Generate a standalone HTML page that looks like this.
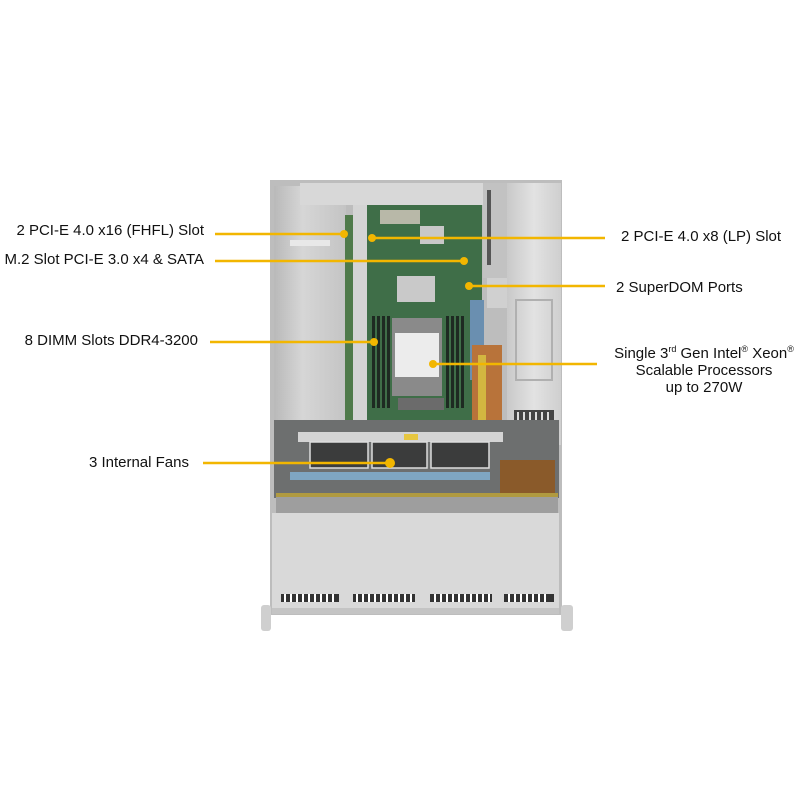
<!DOCTYPE html>
<html><head><style>
html,body{margin:0;padding:0;background:#fff;}
body{width:800px;height:800px;position:relative;overflow:hidden;font-family:"Liberation Sans",Arial,sans-serif;}
.t{position:absolute;font-size:15px;color:#111;white-space:nowrap;line-height:16px;}
</style></head><body>
<svg width="800" height="800" style="position:absolute;left:0;top:0">
<defs>
<linearGradient id="psu" x1="0" x2="1"><stop offset="0" stop-color="#c9c9c9"/><stop offset="0.5" stop-color="#e2e2e2"/><stop offset="1" stop-color="#cfcfcf"/></linearGradient>
<linearGradient id="bay" x1="0" x2="1"><stop offset="0" stop-color="#b9b9b9"/><stop offset="0.4" stop-color="#d6d6d6"/><stop offset="1" stop-color="#c4c4c4"/></linearGradient>
</defs>
<rect x="270" y="180" width="292" height="435" fill="#bdbdbd"/>
<rect x="274" y="186" width="72" height="245" fill="url(#bay)"/>
<rect x="290" y="240" width="40" height="6" fill="#e8e8e8"/>
<rect x="345" y="215" width="8" height="210" fill="#4f7a4a"/>
<rect x="353" y="200" width="14" height="230" fill="#d4d4d4"/>
<rect x="300" y="183" width="185" height="22" fill="#d8d8d8"/>
<rect x="367" y="205" width="115" height="215" fill="#3f6e48"/>
<rect x="380" y="210" width="40" height="14" fill="#b8b8a8"/>
<rect x="420" y="226" width="24" height="18" fill="#c8c8c8"/>
<rect x="397" y="276" width="38" height="26" fill="#c9c9c9"/>
<g fill="#1e2a22">
<rect x="372" y="316" width="3" height="92"/><rect x="377" y="316" width="3" height="92"/><rect x="382" y="316" width="3" height="92"/><rect x="387" y="316" width="3" height="92"/>
<rect x="446" y="316" width="3" height="92"/><rect x="451" y="316" width="3" height="92"/><rect x="456" y="316" width="3" height="92"/><rect x="461" y="316" width="3" height="92"/>
</g>
<rect x="392" y="318" width="50" height="78" fill="#8a8a8a"/>
<rect x="395" y="333" width="44" height="44" fill="#ececec"/>
<rect x="398" y="398" width="46" height="12" fill="#6b6b6b"/>
<rect x="470" y="300" width="14" height="80" fill="#6a8fb0"/>
<rect x="472" y="345" width="30" height="80" fill="#b8733a"/>
<rect x="478" y="355" width="8" height="65" fill="#d3b640"/>
<rect x="483" y="183" width="24" height="95" fill="#c2c2c2"/>
<rect x="487" y="190" width="4" height="75" fill="#555"/>
<rect x="487" y="278" width="22" height="30" fill="#d0d0d0"/>
<rect x="507" y="183" width="54" height="262" fill="url(#psu)"/>
<rect x="516" y="300" width="36" height="80" fill="none" stroke="#b0b0b0" stroke-width="2"/>
<rect x="514" y="410" width="40" height="26" fill="#444"/>
<g stroke="#ddd" stroke-width="2"><line x1="518" y1="412" x2="518" y2="434"/><line x1="524" y1="412" x2="524" y2="434"/><line x1="530" y1="412" x2="530" y2="434"/><line x1="536" y1="412" x2="536" y2="434"/><line x1="542" y1="412" x2="542" y2="434"/><line x1="548" y1="412" x2="548" y2="434"/></g>
<rect x="274" y="420" width="285" height="78" fill="#6d6f6f"/>
<rect x="298" y="432" width="205" height="10" fill="#d4d4d4"/>
<rect x="404" y="434" width="14" height="6" fill="#e6c640"/>
<rect x="310" y="442" width="58" height="26" fill="#3b3c3c" stroke="#ddd" stroke-width="1.5"/>
<rect x="372" y="442" width="55" height="26" fill="#3b3c3c" stroke="#ddd" stroke-width="1.5"/>
<rect x="431" y="442" width="58" height="26" fill="#3b3c3c" stroke="#ddd" stroke-width="1.5"/>
<rect x="290" y="472" width="200" height="8" fill="#7fa6c2"/>
<rect x="500" y="460" width="55" height="35" fill="#8a5a2a"/>
<rect x="276" y="493" width="282" height="4" fill="#b09a40"/>
<rect x="276" y="497" width="282" height="16" fill="#9e9e9e"/>
<rect x="272" y="513" width="287" height="99" fill="#d9d9d9"/>
<g fill="#333">
<rect x="281" y="594" width="58" height="8"/><rect x="353" y="594" width="62" height="8"/><rect x="430" y="594" width="62" height="8"/><rect x="504" y="594" width="50" height="8"/>
</g>
<g fill="#fff">
<rect x="284" y="594" width="2" height="8"/><rect x="290" y="594" width="2" height="8"/><rect x="296" y="594" width="2" height="8"/><rect x="302" y="594" width="2" height="8"/><rect x="308" y="594" width="2" height="8"/><rect x="314" y="594" width="2" height="8"/><rect x="320" y="594" width="2" height="8"/><rect x="326" y="594" width="2" height="8"/><rect x="332" y="594" width="2" height="8"/>
<rect x="356" y="594" width="2" height="8"/><rect x="362" y="594" width="2" height="8"/><rect x="368" y="594" width="2" height="8"/><rect x="374" y="594" width="2" height="8"/><rect x="380" y="594" width="2" height="8"/><rect x="386" y="594" width="2" height="8"/><rect x="392" y="594" width="2" height="8"/><rect x="398" y="594" width="2" height="8"/><rect x="404" y="594" width="2" height="8"/><rect x="410" y="594" width="2" height="8"/>
<rect x="434" y="594" width="2" height="8"/><rect x="440" y="594" width="2" height="8"/><rect x="446" y="594" width="2" height="8"/><rect x="452" y="594" width="2" height="8"/><rect x="458" y="594" width="2" height="8"/><rect x="464" y="594" width="2" height="8"/><rect x="470" y="594" width="2" height="8"/><rect x="476" y="594" width="2" height="8"/><rect x="482" y="594" width="2" height="8"/><rect x="488" y="594" width="2" height="8"/>
<rect x="508" y="594" width="2" height="8"/><rect x="514" y="594" width="2" height="8"/><rect x="520" y="594" width="2" height="8"/><rect x="526" y="594" width="2" height="8"/><rect x="532" y="594" width="2" height="8"/><rect x="538" y="594" width="2" height="8"/><rect x="544" y="594" width="2" height="8"/>
</g>
<rect x="272" y="608" width="287" height="6" fill="#c4c4c4"/>
<rect x="261" y="605" width="10" height="26" rx="3" fill="#cfcfcf"/>
<rect x="561" y="605" width="12" height="26" rx="3" fill="#cfcfcf"/>
<g stroke="#f2b600" stroke-width="2.5" fill="none">
<line x1="215" y1="234" x2="344" y2="234"/>
<line x1="215" y1="261" x2="464" y2="261"/>
<line x1="210" y1="342" x2="374" y2="342"/>
<line x1="203" y1="463" x2="390" y2="463"/>
<line x1="372" y1="238" x2="605" y2="238"/>
<line x1="469" y1="286" x2="605" y2="286"/>
<line x1="433" y1="364" x2="597" y2="364"/>
</g>
<g fill="#f2b600">
<circle cx="344" cy="234" r="4"/><circle cx="464" cy="261" r="4"/><circle cx="374" cy="342" r="4"/><circle cx="390" cy="463" r="5"/>
<circle cx="372" cy="238" r="4"/><circle cx="469" cy="286" r="4"/><circle cx="433" cy="364" r="4"/>
</g>
</svg>
<div class="t" style="right:596px;top:223px">2 PCI-E 4.0 x16 (FHFL) Slot</div>
<div class="t" style="right:596px;top:252px">M.2 Slot PCI-E 3.0 x4 &amp; SATA</div>
<div class="t" style="right:602px;top:333px">8 DIMM Slots DDR4-3200</div>
<div class="t" style="right:611px;top:455px">3 Internal  Fans</div>
<div class="t" style="left:621px;top:229px">2 PCI-E 4.0 x8 (LP) Slot</div>
<div class="t" style="left:616px;top:280px">2 SuperDOM Ports</div>
<div class="t" style="left:606px;top:345px;width:196px;text-align:center;line-height:17px">Single 3<sup style="font-size:9px;line-height:0">rd</sup> Gen Intel<sup style="font-size:9px;line-height:0">®</sup> Xeon<sup style="font-size:9px;line-height:0">®</sup><br>Scalable Processors<br>up to 270W</div>
</body></html>
